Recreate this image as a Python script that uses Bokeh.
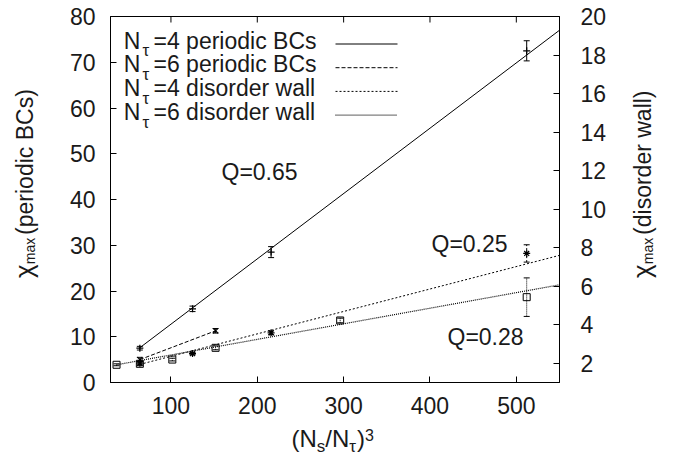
import math
from bokeh.plotting import figure
from bokeh.layouts import row, column
from bokeh.models import (Range1d, LinearAxis, FixedTicker, Label, Whisker,
                          TeeHead, ColumnDataSource)
from bokeh.embed import file_html
from bokeh.resources import INLINE

# ---------------- data ----------------
x_ticks = [100, 200, 300, 400, 500]
left_ticks = [0, 10, 20, 30, 40, 50, 60, 70, 80]
right_ticks = [2, 4, 6, 8, 10, 12, 14, 16, 18, 20]

# N_tau = 4 periodic BCs (left axis)
p4_x = [64, 125, 216, 512]
p4_y = [7.5, 16.1, 28.5, 72.5]
p4_err = [0.4, 0.6, 1.2, 2.2]
p4_fit_x = [64, 550]
p4_fit_y = [7.6, 77.0]

# N_tau = 6 periodic BCs (left axis)
p6_x = [64, 151.7]
p6_y = [5.0, 11.3]
p6_err = [0.5, 0.5]
p6_fit_x = [64, 151.7]
p6_fit_y = [5.0, 11.3]

# N_tau = 4 disorder wall (right axis)
w4_x = [64, 125, 216, 512]
w4_y = [2.0, 2.5, 3.58, 7.7]
w4_err = [0.08, 0.06, 0.1, 0.45]
w4_fit_x = [64, 550]
w4_fit_y = [1.94, 7.6]

# N_tau = 6 disorder wall (right axis)
w6_x = [37, 64, 101.6, 151.7, 296, 512]
w6_y = [1.92, 1.97, 2.19, 2.8, 4.22, 5.43]
w6_err = [0.05, 0.1, 0.07, 0.1, 0.12, 1.0]
w6_fit_x = [37, 550]
w6_fit_y = [1.92, 6.07]

q_labels = ["Q=0.65", "Q=0.25", "Q=0.28"]
legend_rest = ["=4 periodic BCs", "=6 periodic BCs", "=4 disorder wall", "=6 disorder wall"]

# ---------------- style / layout ----------------
FONT = "Liberation Sans"
TXT = "#1a1a1a"
FSN = 23
X0, X1 = 30, 550
Y0, Y1 = 0, 80

LW = 50            # left label strip width
RW = 43            # right label strip width
BL, BR, BT, BB = 60, 66, 16, 42   # main figure borders
FW, FH = 449, 366  # frame size
PW = BL + FW + BR
PH = BT + FH + BB
TOTW = LW + PW + RW
TOTH = 458
BH = TOTH - PH     # bottom strip height

# frame in page pixels
FL, FR, FT, FB = LW + BL, LW + BL + FW, BT, BT + FH


def sx(px):
    return X0 + (px - FL) * (X1 - X0) / (FR - FL)


def sy(py):
    return Y0 + (FB - py) * (Y1 - Y0) / (FB - FT)


p = figure(width=PW, height=PH, x_range=Range1d(X0, X1), y_range=Range1d(Y0, Y1),
           output_backend="svg", toolbar_location=None,
           min_border_left=BL, min_border_right=BR, min_border_top=BT, min_border_bottom=BB)
p.extra_y_ranges = {"wall": Range1d(1, 20)}
p.background_fill_color = "white"
p.border_fill_color = "white"
p.outline_line_color = "black"
p.outline_line_width = 1
p.xgrid.grid_line_color = None
p.ygrid.grid_line_color = None


def style_axis(ax, standoff):
    ax.axis_line_color = "black"
    ax.major_tick_line_color = "black"
    ax.major_tick_in = 6
    ax.major_tick_out = 0
    ax.minor_tick_line_color = None
    ax.major_label_text_font = FONT
    ax.major_label_text_font_size = f"{FSN}px"
    ax.major_label_text_color = TXT
    ax.major_label_standoff = standoff


p.xaxis.ticker = FixedTicker(ticks=x_ticks)
p.yaxis.ticker = FixedTicker(ticks=left_ticks)
style_axis(p.xaxis[0], 14)
style_axis(p.yaxis[0], 15)

ry = LinearAxis(y_range_name="wall", ticker=FixedTicker(ticks=right_ticks))
style_axis(ry, 21)
p.add_layout(ry, "right")

# mirrored ticks on the top edge (inward), at the x tick values
p.scatter(x_ticks, [Y1] * len(x_ticks), marker="dash", angle=math.pi / 2, size=12,
          line_color="black", line_width=1)

# ---------------- series ----------------
series = [
    (p4_x, p4_y, p4_err, p4_fit_x, p4_fit_y, "cross", None, "default", 1.0),
    (p6_x, p6_y, p6_err, p6_fit_x, p6_fit_y, "x", "4 2", "default", 1.0),
    (w4_x, w4_y, w4_err, w4_fit_x, w4_fit_y, "asterisk", "2 2", "wall", 1.0),
    (w6_x, w6_y, w6_err, w6_fit_x, w6_fit_y, "square", "1 1", "wall", 1.2),
]

for xs, ys, es, fx, fy, mk, dash, rng, lw in series:
    kw = {} if rng == "default" else {"y_range_name": rng}
    dash_kw = {} if dash is None else {"line_dash": dash}
    p.line(fx, fy, line_color="black", line_width=lw, **dash_kw, **kw)
    src = ColumnDataSource(dict(x=xs, y=ys,
                                lo=[a - b for a, b in zip(ys, es)],
                                hi=[a + b for a, b in zip(ys, es)]))
    w = Whisker(source=src, base="x", lower="lo", upper="hi", dimension="height",
                line_color="black", line_width=1,
                upper_head=TeeHead(size=6, line_color="black", line_width=1),
                lower_head=TeeHead(size=6, line_color="black", line_width=1),
                **dash_kw, **kw)
    p.add_layout(w)
    if mk == "square":
        p.scatter("x", "y", source=src, marker=mk, size=7, fill_color=None,
                  line_color="black", line_width=1, **kw)
    else:
        p.scatter("x", "y", source=src, marker=mk, size=7,
                  line_color="black", line_width=1.2, **kw)

CAP = 0.357  # half cap-height as fraction of font size


def mklabel(x, y, text, size, angle=0.0):
    return Label(x=x, y=y, text=text, text_font=FONT, text_font_size=f"{size}px",
                 text_color=TXT, angle=angle, text_align="left",
                 text_baseline="middle")


def lab(px, base_py, text, size=FSN):
    # base_py: intended baseline (page px); anchor at the middle of the caps
    p.add_layout(mklabel(sx(px), sy(base_py - CAP * size), text, size))


# Q annotations
lab(221, 180, q_labels[0])
lab(431, 252, q_labels[1])
lab(447, 345, q_labels[2])

# legend (text left, line sample right)
dashes = [None, "4 2", "2 2", "1 1"]
dash_w = [1.0, 1.0, 1.0, 1.2]
for i in range(4):
    base = 48.5 + i * 23.7
    lab(123.3, base, "N")
    lab(142, base + 8, "τ", size=17)
    lab(153, base, legend_rest[i])
    dk = {} if dashes[i] is None else {"line_dash": dashes[i]}
    p.line([sx(335), sx(397)], [sy(base - 5), sy(base - 5)], line_color="black",
           line_width=dash_w[i], **dk)


# ---------------- label strips ----------------
def strip(w, h):
    f = figure(width=w, height=h, x_range=Range1d(0, w), y_range=Range1d(0, h),
               output_backend="svg", toolbar_location=None,
               x_axis_location=None, y_axis_location=None,
               min_border_left=0, min_border_right=0, min_border_top=0,
               min_border_bottom=0)
    f.outline_line_color = None
    f.xgrid.grid_line_color = None
    f.ygrid.grid_line_color = None
    f.background_fill_color = "white"
    f.border_fill_color = "white"
    return f


A = math.pi / 2

# rotated labels: (baseline x, start y, text, size), all in page px
left_parts = [(33, 303, "χ", 26), (34, 287, "max", 14), (33, 253, "(periodic BCs)", FSN)]
right_parts = [(651, 303, "χ", 26), (652, 287, "max", 14), (651, 253, "(disorder wall)", FSN)]

lf = strip(LW, PH)
for bx, by, t, s in left_parts:
    lf.add_layout(mklabel(bx - CAP * s, PH - by, t, s, A))

rf = strip(RW, PH)
rx0 = LW + PW
for bx, by, t, s in right_parts:
    rf.add_layout(mklabel(bx - CAP * s - rx0, PH - by, t, s, A))

bf = strip(TOTW, BH)
XB = 447
x_parts = [(291, XB, "(N", 24), (316.3, XB + 5, "s", 17), (324.8, XB, "/N", 24),
           (348.8, XB + 5, "τ", 17), (356.5, XB, ")", 24), (364.5, XB - 7, "3", 16)]
for bx, by, t, s in x_parts:
    bf.add_layout(mklabel(bx, TOTH - (by - CAP * s), t, s))

layout = column(row(lf, p, rf), bf, spacing=0)

open("out.html", "w").write(file_html(layout, INLINE))
